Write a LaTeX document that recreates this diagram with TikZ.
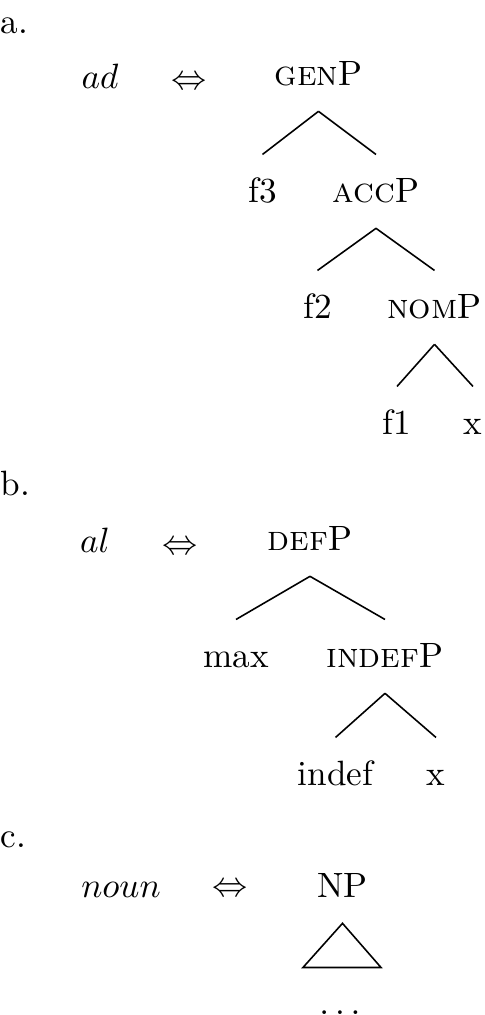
\documentclass[tikz,border=0pt]{standalone}
\usetikzlibrary{calc}
\tikzset{
  treenode/.style={anchor=base, inner xsep=0pt, inner ysep=4.7pt, text height=2ex, text depth=.6ex},
  exlabel/.style={anchor=base west, inner sep=0pt},
  lexnode/.style={anchor=base, inner sep=0pt},
  branch/.style={line width=0.45pt},
}

\begin{document}
\begin{tikzpicture}[x=0.01cm, y=-0.01cm]
  \useasboundingbox (0,0) rectangle (485,1015);

  % a.
  \node[exlabel] (la) at (0,33) {a.};
  \node[lexnode] (ad) at (100,88) {$ad$};
  \node[lexnode] (eqa) at (189.5,89) {$\Leftrightarrow$};
  \node[treenode] (genP) at (318.5,85) {\textsc{gen}P};
  \node[treenode] (f3) at (262.5,202) {f3};
  \node[treenode] (accP) at (376,202) {\textsc{acc}P};
  \node[treenode] (f2) at (317.5,318) {f2};
  \node[treenode] (nomP) at (434.5,318) {\textsc{nom}P};
  \node[treenode] (f1) at (397,434) {f1};
  \node[treenode] (xa) at (473,434) {x};

  \draw[branch] (genP.south) -- (f3.north);
  \draw[branch] (genP.south) -- (accP.north);
  \draw[branch] (accP.south) -- (f2.north);
  \draw[branch] (accP.south) -- (nomP.north);
  \draw[branch] (nomP.south) -- (f1.north);
  \draw[branch] (nomP.south) -- (xa.north);

  % b.
  \node[exlabel] (lb) at (0,495) {b.};
  \node[lexnode] (al) at (95,552) {$al$};
  \node[lexnode] (eqb) at (180.5,554) {$\Leftrightarrow$};
  \node[treenode] (defP) at (310,550) {\textsc{def}P};
  \node[treenode] (max) at (236,667) {max};
  \node[treenode] (indefP) at (385,667) {\textsc{indef}P};
  \node[treenode] (indef) at (335.5,785) {indef};
  \node[treenode] (xb) at (436,785) {x};

  \draw[branch] (defP.south) -- (max.north);
  \draw[branch] (defP.south) -- (indefP.north);
  \draw[branch] (indefP.south) -- (indef.north);
  \draw[branch] (indefP.south) -- (xb.north);

  % c.
  \node[exlabel] (lc) at (0,847) {c.};
  \node[lexnode] (noun) at (121,897) {$noun$};
  \node[lexnode] (eqc) at (230.5,896) {$\Leftrightarrow$};
  \node[treenode] (NP) at (342.5,897) {NP};
  \node[treenode] (dots) at (340,1014) {$\ldots$};

  \draw[branch] (NP.south) -- ($(dots.north)+(-37,1)$) -- ($(dots.north)+(41,1)$) -- cycle;
\end{tikzpicture}
\end{document}
